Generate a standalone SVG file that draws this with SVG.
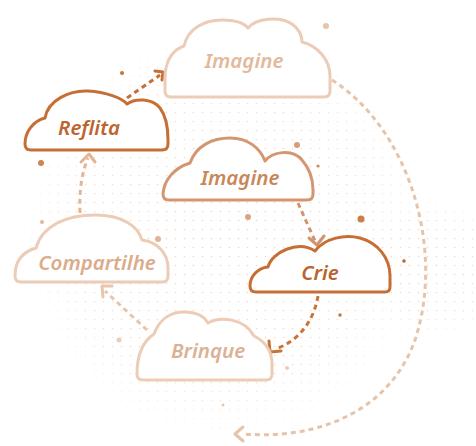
<svg xmlns="http://www.w3.org/2000/svg" width="476" height="446" viewBox="0 0 476 446">
  <defs>
    <pattern id="dots" width="9" height="9" patternUnits="userSpaceOnUse">
      <circle cx="4.5" cy="4.5" r="0.85" fill="#f2d6c2"/>
    </pattern>
    <radialGradient id="fade" cx="0.5" cy="0.5" r="0.5">
      <stop offset="0" stop-color="#fff" stop-opacity="1"/>
      <stop offset="0.7" stop-color="#fff" stop-opacity="0.8"/>
      <stop offset="1" stop-color="#fff" stop-opacity="0"/>
    </radialGradient>
    <mask id="halo">
      <circle cx="225" cy="235" r="215" fill="url(#fade)"/>
      <ellipse cx="435" cy="268" rx="80" ry="72" fill="url(#fade)"/>
    </mask>
    <style>
      .cloud { fill: #fff; stroke-width: 3; stroke-linejoin: round; }
      .dark { stroke: #c66e34; }
      .mid { stroke: #d49670; }
      .light { stroke: #ecccb6; }
      .label { font-family: "Noto Sans", "Open Sans", sans-serif; font-style: italic; font-weight: 600; font-size: 20.5px; text-anchor: middle; }
      .dash { fill: none; stroke-width: 3; stroke-dasharray: 5 4; }
      .head { fill: none; stroke-width: 3; stroke-linecap: round; stroke-linejoin: round; }
    </style>
  </defs>

  <!-- halftone backdrop -->
  <rect x="0" y="0" width="476" height="446" fill="url(#dots)" mask="url(#halo)"/>

  <!-- scattered accent dots -->
  <g id="accents">
    <circle cx="122" cy="73" r="2" fill="#c8733a"/>
    <circle cx="41" cy="163" r="3" fill="#cf8550"/>
    <circle cx="326" cy="26" r="3" fill="#e7c3a9"/>
    <circle cx="297" cy="145" r="3" fill="#d99e78"/>
    <circle cx="318" cy="166" r="1.6" fill="#d08b5e"/>
    <circle cx="248" cy="217" r="3" fill="#dca481"/>
    <circle cx="361" cy="219" r="3.5" fill="#cc7d48"/>
    <circle cx="404" cy="261" r="1.8" fill="#b9672f"/>
    <circle cx="340" cy="315" r="1.8" fill="#c67840"/>
    <circle cx="42" cy="222" r="2" fill="#e2b898"/>
    <circle cx="158" cy="239" r="3" fill="#e0b494"/>
    <circle cx="119" cy="340" r="2.5" fill="#eccdb7"/>
    <circle cx="287" cy="368" r="2" fill="#eccdb7"/>
    <circle cx="223" cy="405" r="1.5" fill="#e8c6ad"/>
  </g>

  <!-- connectors -->
  <g id="connectors">
    <!-- wide loop from the top cloud round the right side -->
    <path class="dash" stroke="#e6c3a9" stroke-width="3.5" stroke-dasharray="6 5" d="M 332 80 C 410 130 445 250 415 340 C 390 410 320 440 244 434"/>
    <path class="head" stroke="#e6c3a9" d="M 243 427 L 235 434 L 243 441"/>

    <!-- Reflita to top Imagine -->
    <path class="dash" stroke="#c66e34" d="M 127 98 L 160 75"/>
    <path class="head" stroke="#c66e34" d="M 155 71 L 163 72 L 162 80"/>

    <!-- Compartilhe to Reflita -->
    <path class="dash" stroke="#e2b595" d="M 80 213 C 79 190 82 172 88 158"/>
    <path class="head" stroke="#e2b595" d="M 81 162 L 89 154 L 95 162"/>

    <!-- middle Imagine to Crie -->
    <path class="dash" stroke="#d09470" d="M 298 203 L 315 241"/>
    <path class="head" stroke="#d09470" d="M 309 238 L 317 245 L 324 236"/>

    <!-- Crie to Brinque -->
    <path class="dash" stroke="#c87438" d="M 318 296 C 314 320 300 340 276 349"/>
    <path class="head" stroke="#c87438" d="M 269 341 L 270 352 L 281 351"/>

    <!-- Brinque to Compartilhe -->
    <path class="dash" stroke="#e8c5ab" d="M 147 330 L 105 291"/>
    <path class="head" stroke="#e8c5ab" d="M 103 297 L 102 286 L 112 286"/>
  </g>

  <!-- clouds -->
  <g id="imagine-top">
    <path class="cloud light" d="M 171 97 Q 165 97 165 91 L 165 78 C 165 62 172 50 184 46 C 188 28 205 20 222 20 C 236 20 244 23 248 28 C 256 18 280 16 292 24 C 300 30 302 36 302 42 C 318 46 330 60 330 76 L 330 91 Q 330 97 324 97 Z"/>
    <text class="label" x="244" y="68" fill="#e2b99c">Imagine</text>
  </g>

  <g id="reflita">
    <path class="cloud dark" d="M 31 150 Q 25 150 25 144 C 25 132 33 121 45 118 C 48 100 70 90 88 91 C 106 92 122 98 127 104 C 135 98 152 98 160 108 C 166 116 168 126 168 140 L 168 144 Q 168 150 162 150 Z"/>
    <text class="label" x="89" y="135" fill="#bd6530">Reflita</text>
  </g>

  <g id="imagine-mid">
    <path class="cloud mid" d="M 169 200 Q 163 200 163 194 C 164 180 174 168 190 163 C 196 146 212 138 230 138 C 248 138 260 148 265 161 C 272 152 292 148 302 160 C 309 168 313 178 313 190 L 313 194 Q 313 200 307 200 Z"/>
    <text class="label" x="240" y="185" fill="#c98758">Imagine</text>
  </g>

  <g id="crie">
    <path class="cloud dark" d="M 256 292 Q 250 292 250 286 C 250 276 258 268 268 267 C 272 252 298 240 315 251 C 325 238 345 234 360 238 C 378 243 390 258 390 276 L 390 287 Q 390 292 385 292 Z"/>
    <text class="label" x="320" y="280" fill="#b8632c">Crie</text>
  </g>

  <g id="compartilhe">
    <path class="cloud light" d="M 21 282 Q 15 282 15 276 C 15 262 22 252 36 248 C 42 226 66 215 95 215 C 122 215 138 226 142 240 C 158 242 168 254 168 268 L 168 276 Q 168 282 162 282 Z"/>
    <text class="label" x="97" y="270" fill="#dcab8a">Compartilhe</text>
  </g>

  <g id="brinque">
    <path class="cloud light" d="M 143 380 Q 137 380 137 374 C 137 356 142 342 154 334 C 160 318 172 312 184 312 C 196 312 204 316 208 323 C 220 316 244 318 254 336 C 266 342 272 352 272 364 L 272 374 Q 272 380 266 380 Z"/>
    <text class="label" x="208" y="358" fill="#dab195">Brinque</text>
  </g>
</svg>
